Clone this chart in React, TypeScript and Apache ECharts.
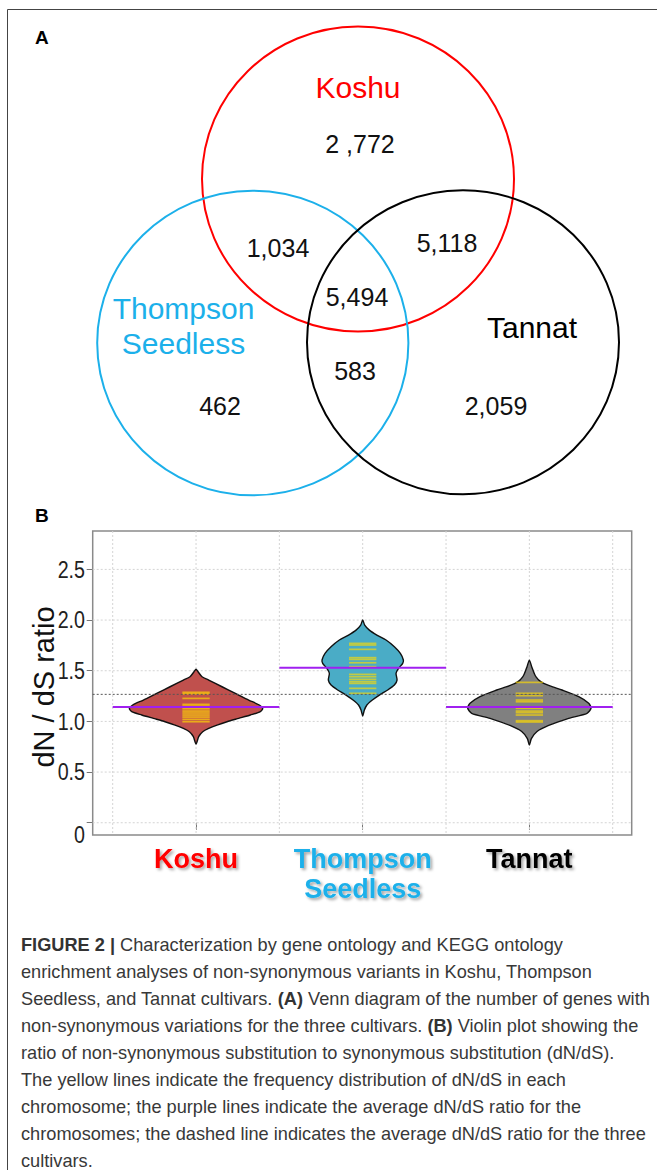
import React, { useEffect, useRef } from 'react';
import * as echarts from 'echarts';

// ---------- Panel A: Venn data ----------
const vennSetNames = ['Koshu', 'Thompson\nSeedless', 'Tannat'];
const vennSetColors = ['#ff0000', '#1cb0ea', '#000000'];
// regions: Koshu only, Koshu∩Thompson, Koshu∩Tannat, all three, Thompson∩Tannat, Thompson only, Tannat only
const vennRegionLabels = ['2 ,772', '1,034', '5,118', '5,494', '583', '462', '2,059'];

// ---------- Panel B: violin data ----------
const cultivarLabels = ['Koshu', 'Thompson\nSeedless', 'Tannat'];
const cultivarPos = [1, 2, 3];
const violinColors = ['#c0504d', '#4aacc6', '#808080'];
const labelColors = ['#ff0000', '#1cb0ea', '#000000'];

// density profile: [dN/dS value, half width in category units]
const koshuDensity = [
  [1.514, 0], [1.49, 0.012], [1.441, 0.036], [1.408, 0.076], [1.342, 0.156], [1.277, 0.236],
  [1.211, 0.316], [1.162, 0.38], [1.129, 0.4], [1.096, 0.386], [1.063, 0.326], [1.03, 0.256],
  [0.997, 0.186], [0.964, 0.126], [0.931, 0.076], [0.898, 0.04], [0.849, 0.016], [0.777, 0],
];
const thompsonDensity = [
  [2.0, 0], [1.951, 0.012], [1.901, 0.04], [1.852, 0.085], [1.803, 0.14], [1.737, 0.19],
  [1.671, 0.226], [1.606, 0.244], [1.573, 0.24], [1.523, 0.215], [1.474, 0.2], [1.408, 0.206],
  [1.359, 0.19], [1.31, 0.15], [1.26, 0.1], [1.211, 0.058], [1.162, 0.025], [1.112, 0.01], [1.053, 0],
];
const tannatDensity = [
  [1.605, 0], [1.54, 0.014], [1.47, 0.03], [1.44, 0.04], [1.4, 0.062], [1.375, 0.086],
  [1.34, 0.14], [1.31, 0.196], [1.245, 0.296], [1.18, 0.356], [1.13, 0.37], [1.08, 0.346],
  [1.03, 0.236], [0.96, 0.116], [0.9, 0.046], [0.83, 0.012], [0.767, 0],
];

// per-chromosome dN/dS (yellow lines)
const koshuChromRatios = [1.287, 1.273, 1.227, 1.168, 1.151, 1.125, 1.102, 1.083, 1.063, 1.043, 1.02, 0.997];
const thompsonChromRatios = [1.77, 1.754, 1.711, 1.629, 1.612, 1.579, 1.54, 1.464, 1.441, 1.415, 1.392, 1.375, 1.326, 1.277];
const tannatChromRatios = [1.385, 1.277, 1.254, 1.211, 1.194, 1.129, 1.102, 1.086, 1.063, 1.007, 0.994];

// averages
const cultivarMeans = [1.142, 1.53, 1.142];
const overallMean = 1.267;

// axes
const yTicks = [0, 0.5, 1.0, 1.5, 2.0, 2.5];
const yTickLabels = ['0', '0.5', '1.0', '1.5', '2.0', '2.5'];
const xGridValues = [0.5, 1, 1.5, 2, 2.5, 3, 3.5];
const xMin = 0.38;
const xMax = 3.614;
const yMin = -0.121;
const yMax = 2.879;

const captionLines = [
  '{b|FIGURE 2 |} Characterization by gene ontology and KEGG ontology',
  'enrichment analyses of non-synonymous variants in Koshu, Thompson',
  'Seedless, and Tannat cultivars. {b|(A)} Venn diagram of the number of genes with',
  'non-synonymous variations for the three cultivars. {b|(B)} Violin plot showing the',
  'ratio of non-synonymous substitution to synonymous substitution (dN/dS).',
  'The yellow lines indicate the frequency distribution of dN/dS in each',
  'chromosome; the purple lines indicate the average dN/dS ratio for the',
  'chromosomes; the dashed line indicates the average dN/dS ratio for the three',
  'cultivars.',
];

const ARIAL = '"Liberation Sans", Arial, Helvetica, sans-serif';

export default function App() {
  const ref = useRef<HTMLDivElement>(null);

  useEffect(() => {
    if (!ref.current) return;
    const chart = echarts.init(ref.current, null, { renderer: 'svg' });

    const densities = [koshuDensity, thompsonDensity, tannatDensity];
    const chromRatios = [koshuChromRatios, thompsonChromRatios, tannatChromRatios];
    const yellowData: number[][] = [];
    chromRatios.forEach((arr, i) => arr.forEach((v) => yellowData.push([cultivarPos[i], v])));

    const labelRich: any = {};
    labelColors.forEach((c, i) => {
      labelRich['c' + i] = {
        color: c,
        fontSize: 27,
        fontWeight: 'bold',
        fontFamily: ARIAL,
        lineHeight: 30,
        textShadowColor: 'rgba(0,0,0,0.35)',
        textShadowBlur: 3,
        textShadowOffsetX: 2,
        textShadowOffsetY: 2,
      };
    });

    // Venn layout
    const circles = [
      { cx: 358, cy: 179, rx: 156, ry: 152.5 },
      { cx: 252.8, cy: 343, rx: 155.6, ry: 152.3 },
      { cx: 463, cy: 342.3, rx: 156, ry: 152 },
    ];
    const setLabelPos = [
      [358, 87],
      [183.5, 325.5],
      [532, 327],
    ];
    const regionPos = [
      [360, 144],
      [278, 248],
      [447, 243],
      [357, 297],
      [355, 371],
      [220, 406],
      [496, 406],
    ];

    const graphic: any[] = [
      {
        type: 'rect',
        z: 0,
        shape: { x: 7.5, y: 9.5, width: 700, height: 1200 },
        style: { fill: 'none', stroke: '#444', lineWidth: 1 },
      },
      {
        type: 'text',
        x: 35,
        y: 37,
        style: { text: 'A', fontSize: 19, fontWeight: 'bold', fontFamily: ARIAL, fill: '#000', align: 'left', verticalAlign: 'middle' },
      },
      {
        type: 'text',
        x: 35,
        y: 515,
        style: { text: 'B', fontSize: 19, fontWeight: 'bold', fontFamily: ARIAL, fill: '#000', align: 'left', verticalAlign: 'middle' },
      },
      {
        type: 'text',
        x: 44,
        y: 687,
        rotation: Math.PI / 2,
        style: { text: 'dN / dS ratio', fontSize: 29, fontFamily: ARIAL, fill: '#111', align: 'center', verticalAlign: 'middle' },
      },
      {
        type: 'text',
        x: 21,
        y: 944.5 - 13.5,
        style: {
          text: captionLines.join('\n'),
          fontSize: 18.2,
          fontFamily: ARIAL,
          fill: '#383838',
          lineHeight: 27,
          align: 'left',
          verticalAlign: 'top',
          rich: {
            b: { fontSize: 18.2, fontWeight: 'bold', fontFamily: ARIAL, fill: '#333', lineHeight: 27 },
          },
        },
      },
    ];
    circles.forEach((c, i) => {
      graphic.push({
        type: 'ellipse',
        z: 2,
        shape: c,
        style: { fill: 'none', stroke: vennSetColors[i], lineWidth: 2 },
      });
    });
    vennSetNames.forEach((name, i) => {
      graphic.push({
        type: 'text',
        z: 3,
        x: setLabelPos[i][0],
        y: setLabelPos[i][1],
        style: {
          text: name,
          fontSize: 30,
          lineHeight: 35,
          fontFamily: ARIAL,
          fill: vennSetColors[i],
          align: 'center',
          verticalAlign: 'middle',
        },
      });
    });
    vennRegionLabels.forEach((lab, i) => {
      graphic.push({
        type: 'text',
        z: 3,
        x: regionPos[i][0],
        y: regionPos[i][1],
        style: { text: lab, fontSize: 25, fontFamily: ARIAL, fill: '#111', align: 'center', verticalAlign: 'middle' },
      });
    });

    const option: any = {
      animation: false,
      backgroundColor: '#ffffff',
      grid: {
        left: 92.7,
        right: 25.3,
        top: 531,
        bottom: 335,
        show: true,
        borderColor: '#8a8a8a',
        borderWidth: 1.5,
        backgroundColor: 'transparent',
      },
      xAxis: {
        type: 'value',
        min: xMin,
        max: xMax,
        splitLine: { show: false },
        axisLine: { show: false },
        axisTick: { show: true, customValues: cultivarPos, length: 7, lineStyle: { color: '#777', width: 1 } },
        axisLabel: {
          customValues: cultivarPos,
          margin: 9,
          formatter: (v: number) => {
            const i = cultivarPos.indexOf(Math.round(v));
            if (i < 0) return '';
            return cultivarLabels[i]
              .split('\n')
              .map((s) => '{c' + i + '|' + s + '}')
              .join('\n');
          },
          rich: labelRich,
        },
      },
      yAxis: {
        type: 'value',
        min: yMin,
        max: yMax,
        splitLine: { show: false },
        axisLine: { show: false },
        axisTick: { show: true, customValues: yTicks, length: 6, lineStyle: { color: '#777', width: 1 } },
        axisLabel: { show: false },
      },
      series: [
        {
          type: 'custom',
          name: 'hgrid',
          z: 1,
          silent: true,
          data: yTicks.map((v) => [1, v]),
          encode: { x: 0, y: 1 },
          renderItem: (params: any, api: any) => {
            const cs = params.coordSys;
            const y = api.coord([1, api.value(1)])[1];
            return {
              type: 'line',
              shape: { x1: cs.x, y1: y, x2: cs.x + cs.width, y2: y },
              style: { stroke: '#d4d4d4', lineWidth: 1, lineDash: [2, 2] },
            };
          },
        },
        {
          type: 'custom',
          name: 'yTickLabels',
          z: 1,
          silent: true,
          clip: false,
          data: yTicks.map((v) => [1, v]),
          encode: { x: 0, y: 1 },
          renderItem: (params: any, api: any) => {
            const cs = params.coordSys;
            const v = api.value(1);
            const y = api.coord([1, v])[1];
            return {
              type: 'text',
              x: cs.x - 7.7,
              y: v === 0 ? y + 12 : y,
              scaleX: 0.82,
              style: {
                text: yTickLabels[params.dataIndex],
                fontSize: 24,
                fontFamily: ARIAL,
                fill: '#222',
                align: 'right',
                verticalAlign: 'middle',
              },
            };
          },
        },
        {
          type: 'custom',
          name: 'vgrid',
          z: 1,
          silent: true,
          data: xGridValues.map((v) => [v, 1]),
          encode: { x: 0, y: 1 },
          renderItem: (params: any, api: any) => {
            const cs = params.coordSys;
            const x = api.coord([api.value(0), 1])[0];
            return {
              type: 'line',
              shape: { x1: x, y1: cs.y, x2: x, y2: cs.y + cs.height },
              style: { stroke: '#d4d4d4', lineWidth: 1, lineDash: [2, 2] },
            };
          },
        },
        {
          type: 'custom',
          name: 'violins',
          z: 2,
          data: cultivarPos.map((p, i) => [p, cultivarMeans[i]]),
          encode: { x: 0, y: 1 },
          renderItem: (params: any, api: any) => {
            const i = params.dataIndex;
            const prof = densities[i];
            const c = api.value(0);
            const right = prof.map(([v, w]) => api.coord([c + w, v]));
            const left = prof
              .slice(1, -1)
              .reverse()
              .map(([v, w]) => api.coord([c - w, v]));
            return {
              type: 'polygon',
              shape: { points: right.concat(left), smooth: 0.25 },
              style: { fill: violinColors[i], stroke: '#111', lineWidth: 1.4 },
            };
          },
        },
        {
          type: 'custom',
          name: 'chromosomes',
          z: 3,
          data: yellowData,
          encode: { x: 0, y: 1 },
          renderItem: (params: any, api: any) => {
            const c = api.value(0);
            const v = api.value(1);
            const a = api.coord([c - 0.082, v]);
            const b = api.coord([c + 0.082, v]);
            return {
              type: 'line',
              shape: { x1: a[0], y1: a[1], x2: b[0], y2: b[1] },
              style: { stroke: 'rgba(255,218,0,0.66)', lineWidth: 1.7 },
            };
          },
        },
        {
          type: 'custom',
          name: 'overall',
          z: 4,
          silent: true,
          data: [[1, overallMean]],
          encode: { x: 0, y: 1 },
          renderItem: (params: any, api: any) => {
            const cs = params.coordSys;
            const y = api.coord([1, api.value(1)])[1];
            return {
              type: 'line',
              shape: { x1: cs.x, y1: y, x2: cs.x + cs.width, y2: y },
              style: { stroke: '#555', lineWidth: 1, lineDash: [2, 2] },
            };
          },
        },
        {
          type: 'custom',
          name: 'means',
          z: 5,
          data: cultivarPos.map((p, i) => [p, cultivarMeans[i]]),
          encode: { x: 0, y: 1 },
          renderItem: (params: any, api: any) => {
            const c = api.value(0);
            const v = api.value(1);
            const a = api.coord([c - 0.5, v]);
            const b = api.coord([c + 0.5, v]);
            return {
              type: 'line',
              shape: { x1: a[0], y1: a[1], x2: b[0], y2: b[1] },
              style: { stroke: '#a020f0', lineWidth: 2 },
            };
          },
        },
      ],
      graphic: { elements: graphic },
    };

    chart.setOption(option);
    return () => chart.dispose();
  }, []);

  return (
    <div
      ref={ref}
      style={{ position: 'absolute', left: 0, top: 0, width: 657, height: 1170, background: '#fff' }}
    />
  );
}
